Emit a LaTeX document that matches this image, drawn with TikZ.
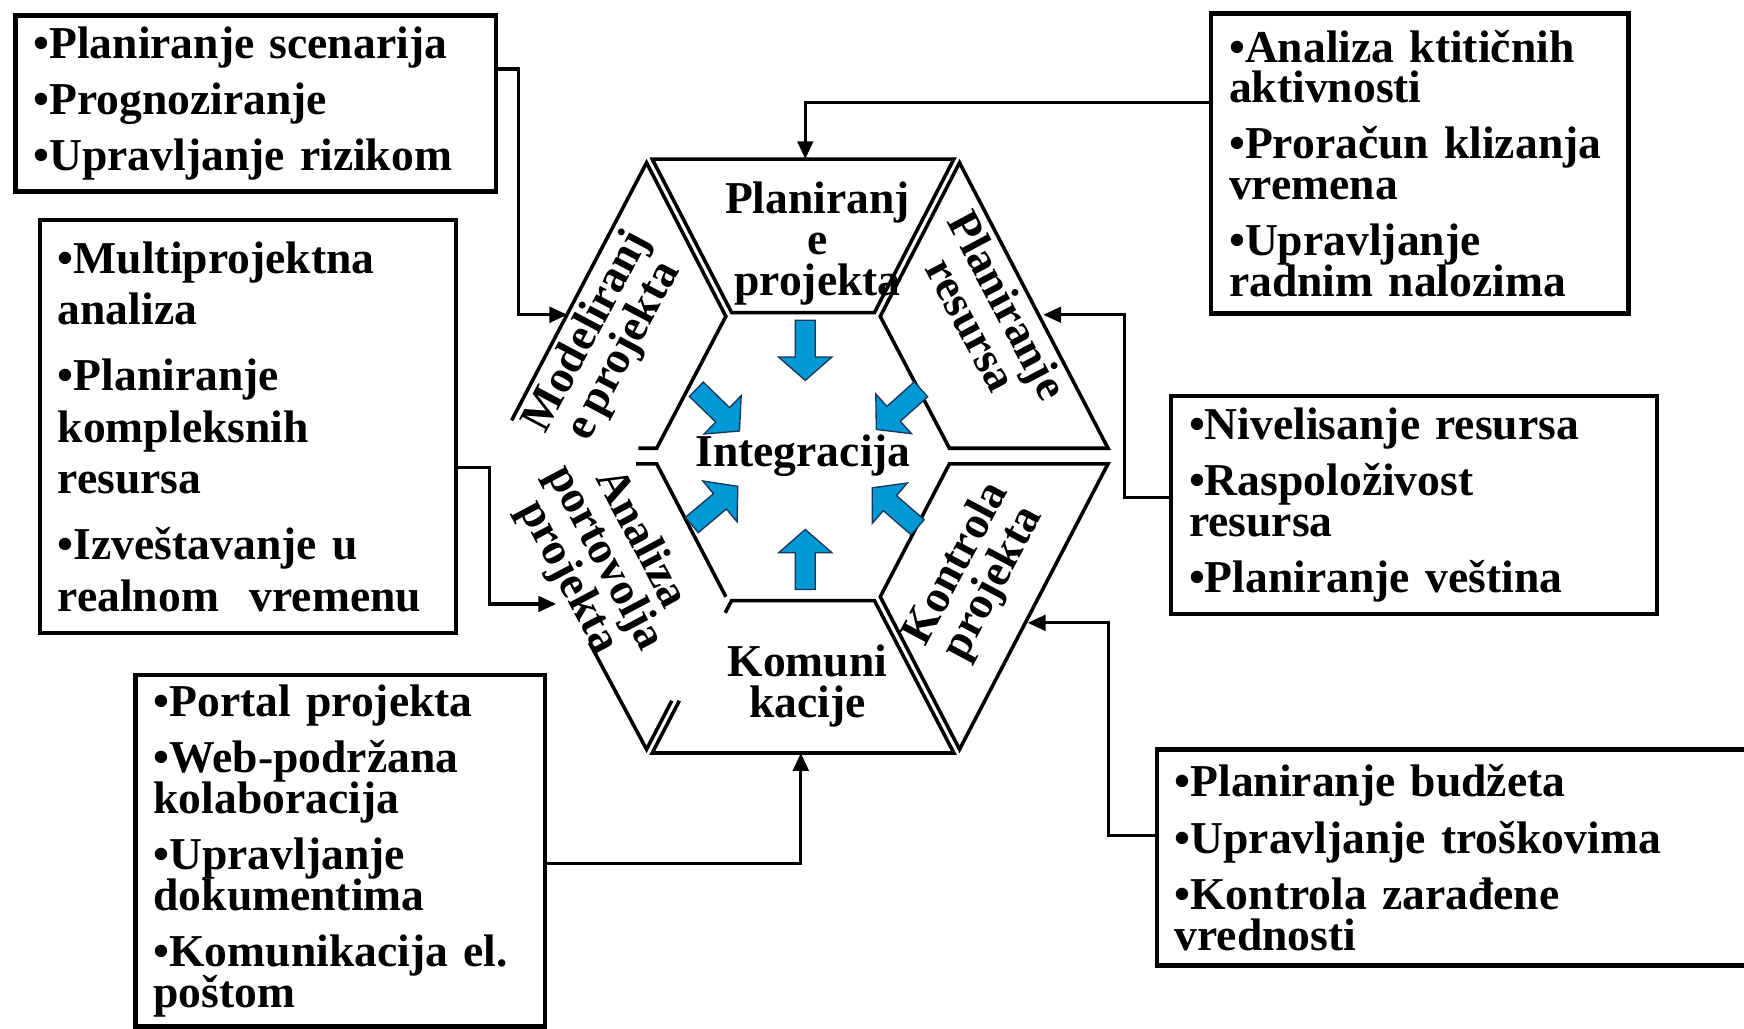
\documentclass[tikz,border=0pt]{standalone}
\usepackage{fontspec}
\setmainfont{Liberation Serif}
\usetikzlibrary{arrows.meta}
\newcommand\boxfont{\bfseries\fontsize{20.5}{18.3}\selectfont\lineskiplimit=-100pt\spaceskip=3.6pt plus 1pt\relax}
\newcommand\boxfontB{\bfseries\fontsize{20.5}{23}\selectfont\lineskiplimit=-100pt\spaceskip=3.6pt plus 1pt\relax}
\newcommand\hexfont{\bfseries\fontsize{20.5}{18.5}\selectfont\lineskiplimit=-100pt\spaceskip=3.6pt plus 1pt\relax}
\definecolor{arrblue}{RGB}{0,153,214}
\definecolor{arrline}{RGB}{25,55,90}
\begin{document}
\begin{tikzpicture}[x=0.5pt,y=-0.5pt,
  box/.style={draw, line width=2pt, fill=white, align=left, anchor=north west,
    inner xsep=8pt, inner ysep=0pt, font=\boxfont},
  conn/.style={line width=1.4pt},
  arr/.style={conn, -{Triangle[length=8pt,width=7pt]}},
  edge/.style={line width=1.6pt, line join=miter},
  barrow/.style={fill=arrblue, draw=arrline, line width=0.6pt},
  hexlabel/.style={font=\hexfont, align=center, inner sep=0pt}]
\useasboundingbox (0,0) rectangle (1568,925);
\fill[white] (0,0) rectangle (1568,925);

% ---- hexagon pieces ----
% top
\draw[edge, fill=white] (586.4,143) -- (857.6,143) -- (786.2,281) -- (657.8,281) -- cycle;
% right-top
\draw[edge, fill=white] (862.7,146.3) -- (996.2,403) -- (853.6,403) -- (791.4,284.5) -- cycle;
% right-bottom
\draw[edge, fill=white] (996.2,417) -- (862.7,673.7) -- (791.4,536.5) -- (853.6,417) -- cycle;
% bottom
\fill[white] (657.8,540) -- (786.2,540) -- (857.6,677) -- (586.4,677) -- cycle;
\draw[edge] (610.8,630) -- (586.4,677) -- (857.6,677) -- (786.2,540) -- (657.8,540) -- (652,551);
% left-bottom
\fill[white] (590.4,417) -- (652.6,536.5) -- (581.3,673.7) -- (447.8,417) -- cycle;
\draw[edge] (572,417) -- (590.4,417) -- (652.6,536.5);
\draw[edge] (604,630) -- (581.3,673.7) -- (530,578);
% left-top
\fill[white] (581.3,146.3) -- (652.6,284.5) -- (590.4,403) -- (447.8,403) -- cycle;
\draw[edge] (460,378) -- (581.3,146.3) -- (652.6,284.5) -- (590.4,403) -- (574,403);

% ---- labels in hexagon ----
\node[hexlabel] (lT) at (735,219) {Planiranj\\e\\projekta};
\node[hexlabel, rotate=62] (lLT) at (545,307) {Modeliranj\\e projekta};
\node[hexlabel, rotate=-62] (lRT) at (890,283) {Planiranje\\resursa};
\node[hexlabel, rotate=-62] (lLB) at (543,502) {Analiza\\portovolja\\projekta};
\node[hexlabel, rotate=62] (lRB) at (877,516) {Kontrola\\projekta};
\node[hexlabel] (lB) at (726,617) {Komuni\\kacije};
\node[hexlabel] (lC) at (722,410) {Integracija};

% ---- blue arrows ----
\foreach \px/\py/\ang in {724/288/-90, 626/350/-44, 828/350/-138, 622/472/40, 825/474/139, 724/530/90}{
  \draw[barrow, shift={(\px,\py)}, rotate=\ang]
    (0,-9) -- (33,-9) -- (33,-24) -- (54,0) -- (33,24) -- (33,9) -- (0,9) -- cycle;
}

% ---- boxes ----
\node[box, text width=200pt, minimum height=79pt] (A) at (12,12)
  {•Planiranje scenarija\\[7pt]•Prognoziranje\\[7pt]•Upravljanje rizikom};
\node[box, font=\boxfontB, text width=171pt, minimum height=185.5pt] (B) at (34,196)
  {•Multiprojektna\\analiza\\[7pt]•Planiranje\\kompleksnih\\resursa\\[7pt]•Izveštavanje u\\realnom\ \ vremenu};
\node[box, text width=168pt, minimum height=158pt] (C) at (120,605)
  {•Portal projekta\\[7pt]•Web-podržana\\kolaboracija\\[7pt]•Upravljanje\\dokumentima\\[7pt]•Komunikacija el.\\poštom};
\node[box, text width=171.5pt, minimum height=135pt] (D) at (1087,10)
  {•Analiza ktitičnih\\aktivnosti\\[7pt]•Proračun klizanja\\vremena\\[7pt]•Upravljanje\\radnim nalozima};
\node[box, text width=202.5pt, minimum height=98pt] (E) at (1051,354)
  {•Nivelisanje resursa\\[7pt]•Raspoloživost\\resursa\\[7pt]•Planiranje veština};
\node[box, text width=256.5pt, minimum height=97pt] (F) at (1038,672)
  {•Planiranje budžeta\\[7pt]•Upravljanje troškovima\\[7pt]•Kontrola zarađene\\vrednosti};

% ---- connectors ----
\coordinate (jA) at (466,62);   \coordinate (tA) at (510,283);
\coordinate (jB) at (440,420);  \coordinate (tB) at (500,543);
\coordinate (jC) at (720,776);  \coordinate (tC) at (720,677);
\coordinate (jD) at (724,92);   \coordinate (tD) at (724,143);
\coordinate (jE) at (1011,447); \coordinate (tE) at (938,283);
\coordinate (jF) at (997,751);  \coordinate (tF) at (924,560);
\draw[arr] (A.east |- jA) -- (jA) |- (tA);
\draw[arr] (B.east |- jB) -- (jB) |- (tB);
\draw[arr] (C.east |- jC) -- (jC) -- (tC);
\draw[arr] (D.west |- jD) -- (jD) -- (tD);
\draw[arr] (E.west |- jE) -- (jE) |- (tE);
\draw[arr] (F.west |- jF) -- (jF) |- (tF);
\end{tikzpicture}
\end{document}
